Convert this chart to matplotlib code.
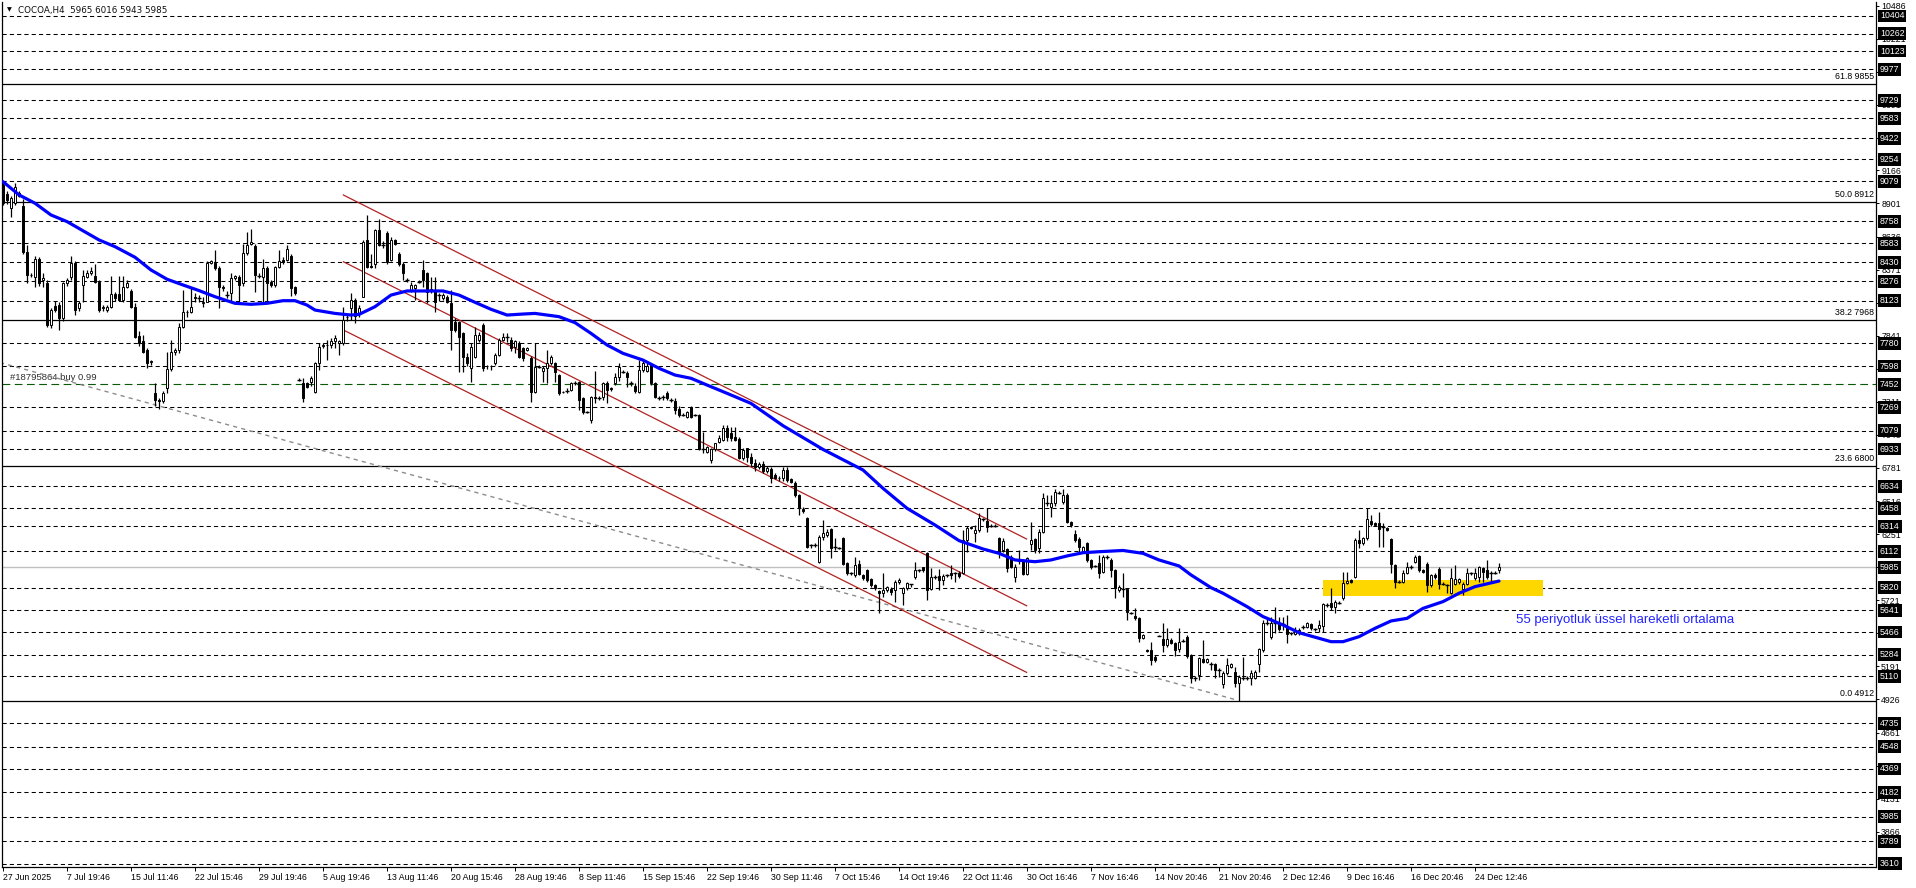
import matplotlib
matplotlib.use("Agg")
import matplotlib.pyplot as plt
import matplotlib.transforms as mtransforms

# ---- candle data (H4 bars) ----
opens = [
    9050, 8978, 8863, 8903, 8983, 8880, 8515, 8330, 8315, 8455,
    8290, 8261, 7928, 8080, 8090, 7980, 8261, 8315, 8422, 8060,
    8250, 8315, 8340, 8320, 8275, 8060, 8050, 8075, 8175, 8175,
    8130, 8235, 8200, 8075, 7840, 7800, 7727, 7630, 7385, 7330,
    7320, 7420, 7572, 7713, 7727, 7914, 8034, 8034, 8150, 8140,
    8100, 8115, 8427, 8427, 8382, 8235, 8170, 8185, 8300, 8315,
    8261, 8502, 8580, 8560, 8320, 8315, 8382, 8275, 8250, 8390,
    8450, 8450, 8480, 8230, 7486, 7459, 7460, 7470, 7393, 7620,
    7760, 7765, 7770, 7800, 7780, 7780, 7990, 8060, 8130, 8020,
    8155, 8608, 8400, 8420, 8690, 8570, 8667, 8448, 8608, 8500,
    8420, 8290, 8210, 8220, 8275, 8368, 8341, 8215, 8207, 8170,
    8140, 8150, 8100, 7954, 7954, 7860, 7673, 7580, 7673, 7810,
    7927, 7600, 7595, 7620, 7686, 7807, 7830, 7807, 7750, 7780,
    7740, 7730, 7660, 7392, 7593, 7560, 7580, 7620, 7620, 7525,
    7392, 7400, 7406, 7465, 7473, 7339, 7230, 7165, 7350, 7345,
    7352, 7465, 7420, 7460, 7513, 7550, 7545, 7460, 7440, 7390,
    7566, 7560, 7606, 7460, 7345, 7350, 7385, 7325, 7318, 7254,
    7206, 7192, 7272, 7203, 7206, 6930, 6912, 6845, 6930, 6992,
    7005, 7104, 7059, 7030, 7010, 6858, 6938, 6872, 6820, 6790,
    6810, 6760, 6770, 6725, 6700, 6698, 6765, 6690, 6663, 6565,
    6450, 6378, 6160, 6165, 6030, 6231, 6245, 6290, 6150, 6140,
    6222, 6017, 5940, 5923, 6009, 5923, 5963, 5889, 5843, 5795,
    5776, 5803, 5815, 5803, 5865, 5776, 5816, 5851, 5905, 5963,
    5985, 6097, 5810, 5905, 5915, 5883, 5923, 5942, 5937, 5942,
    5937, 6204, 6310, 6258, 6284, 6370, 6356, 6320, 6318, 6222,
    6124, 6130, 6070, 5905, 6038, 6044, 5928, 6172, 6209, 6137,
    6270, 6500, 6470, 6498, 6582, 6512, 6565, 6351, 6252, 6209,
    6115, 6180, 6044, 5995, 6022, 5950, 6065, 6044, 5963, 5803,
    5808, 5809, 5620, 5595, 5582, 5421, 5320, 5322, 5269, 5435,
    5408, 5363, 5400, 5376, 5328, 5397, 5429, 5282, 5095, 5122,
    5248, 5229, 5210, 5210, 5162, 5047, 5135, 5189, 5149, 5055,
    5095, 5095, 5095, 5095, 5210, 5322, 5536, 5429, 5536, 5541,
    5530, 5510, 5456, 5451, 5456, 5504, 5510, 5528, 5488, 5496,
    5515, 5683, 5696, 5670, 5700, 5737, 5857, 5884, 5910, 6200,
    6178, 6218, 6359, 6338, 6338, 6311, 6298, 6209, 6004, 5870,
    5870, 5937, 5985, 6030, 6076, 5963, 6012, 5843, 5924, 5972,
    5852, 5844, 5776, 5849, 5870, 5808, 5852, 5937, 5897, 5905,
    5977, 5963, 5942, 5942, 5965,
]
highs = [
    9075, 9000, 8960, 9063, 9000, 8940, 8570, 8345, 8480, 8470,
    8340, 8290, 8060, 8120, 8110, 8275, 8300, 8480, 8440, 8120,
    8368, 8368, 8390, 8420, 8290, 8085, 8085, 8320, 8190, 8320,
    8320, 8290, 8215, 8100, 7880, 7850, 7740, 7650, 7460, 7345,
    7400, 7713, 7807, 7740, 7940, 8208, 8050, 8230, 8180, 8165,
    8150, 8440, 8450, 8528, 8400, 8245, 8200, 8340, 8330, 8330,
    8580, 8670, 8700, 8580, 8345, 8460, 8400, 8290, 8400, 8528,
    8470, 8570, 8500, 8240, 7500, 7500, 7470, 7515, 7627, 7780,
    7780, 7807, 7820, 7845, 7810, 8074, 8010, 8180, 8140, 8090,
    8610, 8810, 8500, 8700, 8775, 8600, 8680, 8630, 8620, 8510,
    8430, 8300, 8270, 8255, 8290, 8450, 8350, 8315, 8315, 8180,
    8180, 8170, 8207, 7980, 7960, 7870, 7700, 7780, 7914, 7870,
    7940, 7610, 7610, 7700, 7820, 7860, 7860, 7830, 7810, 7800,
    7750, 7750, 7680, 7780, 7610, 7600, 7727, 7690, 7630, 7535,
    7400, 7420, 7470, 7480, 7480, 7350, 7240, 7360, 7560, 7360,
    7473, 7475, 7430, 7540, 7620, 7565, 7560, 7480, 7460, 7646,
    7650, 7620, 7620, 7470, 7360, 7365, 7400, 7340, 7340, 7275,
    7220, 7240, 7280, 7210, 7210, 7072, 6960, 6940, 6985, 7045,
    7125, 7125, 7112, 7112, 7030, 6940, 6945, 6900, 6850, 6830,
    6840, 6800, 6790, 6740, 6720, 6790, 6790, 6700, 6680, 6575,
    6470, 6390, 6175, 6180, 6245, 6365, 6290, 6300, 6218, 6150,
    6230, 6030, 5950, 6065, 6044, 5935, 5975, 5900, 5850, 5803,
    5937, 5835, 5825, 5880, 5900, 5830, 5870, 5855, 6030, 5975,
    5990, 6110, 5980, 5920, 5975, 5930, 5935, 6003, 5950, 5955,
    6284, 6320, 6320, 6324, 6418, 6380, 6458, 6335, 6330, 6230,
    6218, 6140, 6080, 6010, 6124, 6050, 6070, 6350, 6220, 6290,
    6580, 6565, 6565, 6610, 6595, 6610, 6578, 6360, 6284, 6231,
    6155, 6190, 6050, 6005, 6084, 6084, 6080, 6060, 5975, 5840,
    5937, 5820, 5630, 5656, 5590, 5450, 5330, 5389, 5280, 5440,
    5536, 5496, 5420, 5390, 5496, 5410, 5440, 5290, 5110, 5270,
    5403, 5260, 5225, 5220, 5175, 5150, 5256, 5220, 5189, 5122,
    5269, 5110, 5162, 5160, 5340, 5563, 5590, 5590, 5670, 5590,
    5590, 5603, 5470, 5510, 5500, 5520, 5550, 5540, 5500, 5563,
    5700, 5700, 5817, 5720, 5715, 5950, 5950, 5890, 6220, 6284,
    6230, 6458, 6405, 6345, 6431, 6338, 6310, 6220, 6015, 5880,
    5963, 6030, 6000, 6084, 6084, 5970, 6030, 5935, 5937, 5985,
    5865, 5855, 5977, 6004, 5900, 5870, 5977, 5950, 5982, 5995,
    5990, 6044, 5955, 5955, 6016,
]
lows = [
    8890, 8900, 8796, 8890, 8950, 8500, 8260, 8310, 8235, 8240,
    8235, 7910, 7900, 8030, 7890, 7960, 8240, 8290, 8010, 8040,
    8115, 8300, 8330, 8260, 8030, 8040, 8030, 8060, 8120, 8120,
    8110, 8220, 8060, 7820, 7760, 7700, 7580, 7610, 7280, 7250,
    7300, 7380, 7560, 7690, 7700, 7900, 7990, 8020, 8115, 8110,
    8075, 8110, 8420, 8370, 8060, 8200, 8140, 8115, 8290, 8115,
    8240, 8490, 8570, 8195, 8300, 8115, 8115, 8235, 8235, 8380,
    8420, 8440, 8160, 8170, 7480, 7312, 7420, 7440, 7380, 7566,
    7740, 7650, 7740, 7740, 7690, 7770, 7960, 7967, 7940, 7995,
    8150, 8380, 8380, 8380, 8560, 8545, 8420, 8440, 8570, 8400,
    8290, 8270, 8190, 8130, 8260, 8234, 8100, 8180, 8034, 8120,
    8130, 8100, 7727, 7870, 7553, 7553, 7600, 7473, 7660, 7790,
    7560, 7575, 7570, 7610, 7680, 7800, 7790, 7715, 7700, 7660,
    7640, 7720, 7312, 7380, 7580, 7473, 7460, 7610, 7473, 7370,
    7380, 7380, 7395, 7450, 7245, 7215, 7220, 7140, 7300, 7330,
    7330, 7300, 7400, 7450, 7480, 7540, 7430, 7440, 7380, 7380,
    7550, 7550, 7450, 7340, 7330, 7330, 7330, 7310, 7215, 7190,
    7195, 7185, 7180, 7195, 6925, 6898, 6905, 6818, 6920, 6985,
    6995, 6995, 7000, 7000, 6850, 6845, 6830, 6800, 6760, 6770,
    6740, 6740, 6663, 6690, 6680, 6680, 6670, 6660, 6550, 6405,
    6420, 6140, 6140, 6150, 6020, 6205, 6230, 6057, 6124, 6130,
    6000, 5920, 5925, 5910, 5920, 5880, 5870, 5830, 5800, 5616,
    5750, 5790, 5763, 5710, 5850, 5683, 5800, 5830, 5890, 5950,
    5950, 5723, 5800, 5890, 5803, 5840, 5905, 5890, 5870, 5900,
    5930, 6110, 6290, 6190, 6270, 6355, 6270, 6305, 6305, 6057,
    6110, 5950, 5980, 5870, 6010, 5920, 5920, 6124, 6097, 6097,
    6260, 6480, 6391, 6480, 6570, 6490, 6340, 6310, 6190, 6110,
    6100, 6030, 5970, 5985, 5897, 5940, 6050, 5910, 5736, 5790,
    5750, 5563, 5610, 5560, 5389, 5410, 5305, 5202, 5230, 5435,
    5309, 5350, 5370, 5274, 5309, 5385, 5260, 5055, 5070, 5082,
    5215, 5215, 5162, 5095, 5109, 5015, 5120, 5180, 5028, 4917,
    5082, 5080, 5042, 5090, 5149, 5310, 5520, 5410, 5456, 5476,
    5483, 5376, 5440, 5440, 5440, 5490, 5500, 5485, 5475, 5470,
    5470, 5670, 5643, 5616, 5690, 5720, 5850, 5860, 5900, 6137,
    6160, 6200, 6320, 6315, 6150, 6150, 6275, 5937, 5817, 5860,
    5860, 5930, 5975, 6020, 5950, 5940, 5790, 5830, 5895, 5808,
    5840, 5776, 5770, 5840, 5855, 5763, 5840, 5925, 5885, 5870,
    5870, 5890, 5857, 5930, 5943,
]
closes = [
    8905, 8930, 8943, 9036, 8960, 8515, 8330, 8325, 8455, 8261,
    8300, 7928, 8047, 8047, 7980, 8261, 8290, 8422, 8047, 8101,
    8320, 8340, 8360, 8275, 8047, 8070, 8075, 8175, 8140, 8130,
    8235, 8261, 8075, 7834, 7780, 7713, 7620, 7635, 7330, 7320,
    7380, 7572, 7713, 7727, 7914, 8034, 8030, 8074, 8145, 8140,
    8115, 8427, 8440, 8382, 8235, 8222, 8170, 8300, 8320, 8250,
    8502, 8570, 8595, 8330, 8320, 8382, 8261, 8250, 8390, 8440,
    8430, 8540, 8220, 8185, 7486, 7339, 7430, 7500, 7620, 7753,
    7765, 7767, 7800, 7820, 7800, 7967, 7995, 8125, 8000, 8060,
    8595, 8395, 8390, 8690, 8570, 8570, 8435, 8608, 8580, 8420,
    8341, 8290, 8250, 8245, 8275, 8288, 8194, 8205, 8114, 8170,
    8165, 8110, 7887, 7887, 7834, 7673, 7620, 7753, 7847, 7850,
    7580, 7598, 7598, 7686, 7807, 7830, 7830, 7740, 7800, 7673,
    7660, 7740, 7392, 7593, 7593, 7580, 7620, 7673, 7553, 7379,
    7390, 7400, 7460, 7465, 7326, 7232, 7230, 7352, 7345, 7345,
    7460, 7406, 7418, 7513, 7593, 7550, 7513, 7460, 7400, 7566,
    7620, 7600, 7460, 7352, 7345, 7350, 7340, 7325, 7246, 7206,
    7206, 7227, 7192, 7203, 6930, 6930, 6952, 6930, 6978, 7018,
    7104, 7030, 7019, 7005, 6858, 6925, 6872, 6820, 6790, 6810,
    6760, 6780, 6698, 6700, 6698, 6765, 6685, 6672, 6565, 6458,
    6435, 6145, 6160, 6165, 6231, 6258, 6270, 6137, 6150, 6140,
    6009, 5937, 5940, 6003, 5931, 5897, 5883, 5843, 5816, 5776,
    5803, 5825, 5790, 5870, 5883, 5816, 5857, 5851, 5963, 5963,
    5963, 5803, 5905, 5905, 5883, 5915, 5923, 5923, 5937, 5915,
    6204, 6298, 6298, 6284, 6378, 6370, 6310, 6320, 6318, 6110,
    6196, 5977, 5990, 5990, 6045, 5928, 6057, 6204, 6124, 6270,
    6538, 6500, 6498, 6591, 6582, 6565, 6351, 6324, 6204, 6150,
    6145, 6044, 5985, 5995, 5937, 6065, 6065, 5963, 5816, 5830,
    5808, 5630, 5620, 5576, 5421, 5443, 5317, 5242, 5242, 5435,
    5363, 5408, 5380, 5322, 5389, 5397, 5274, 5095, 5095, 5256,
    5229, 5248, 5210, 5162, 5162, 5135, 5202, 5210, 5055, 5109,
    5095, 5095, 5140, 5149, 5328, 5536, 5536, 5541, 5536, 5488,
    5530, 5451, 5456, 5483, 5483, 5504, 5536, 5496, 5488, 5523,
    5691, 5683, 5670, 5710, 5700, 5862, 5878, 5870, 6204, 6178,
    6218, 6370, 6330, 6325, 6290, 6311, 6284, 6012, 5870, 5870,
    5942, 5985, 5985, 6071, 5963, 5950, 5843, 5924, 5905, 5852,
    5852, 5844, 5897, 5889, 5889, 5852, 5937, 5937, 5937, 5985,
    5950, 5905, 5942, 5942, 5985,
]

# 55 period EMA, read at selected bars
ema_bars = [0, 4, 8, 12, 16, 24, 28, 33, 37, 41,
            45, 49, 53, 58, 62, 66, 70, 73, 76, 78,
            83, 87, 89, 93, 97, 101, 110, 114, 118, 122,
            126, 130, 133, 139, 143, 147, 151, 155, 160, 164,
            168, 172, 176, 180, 187, 195, 205, 215, 220, 226,
            233, 239, 245, 249, 253, 258, 262, 266, 270, 274,
            280, 285, 289, 294, 297, 302, 305, 311, 315, 320,
            324, 329, 332, 335, 339, 343, 347, 351, 355, 360,
            364, 368, 374]
ema_vals = [9076, 8970, 8903, 8809, 8756, 8609, 8555, 8470, 8368, 8294,
            8248, 8203, 8154, 8101, 8093, 8101, 8122, 8122, 8087, 8047,
            8020, 8007, 8012, 8074, 8167, 8200, 8200, 8167, 8109, 8053,
            8007, 8015, 8020, 7994, 7946, 7860, 7767, 7700, 7646, 7580,
            7526, 7500, 7446, 7393, 7299, 7120, 6930, 6765, 6618, 6458,
            6324, 6199, 6132, 6097, 6044, 6030, 6044, 6076, 6102, 6110,
            6120, 6097, 6044, 5996, 5924, 5822, 5777, 5670, 5590, 5523,
            5461, 5416, 5389, 5389, 5429, 5496, 5555, 5576, 5656, 5710,
            5777, 5830, 5875]

# horizontal levels
dashed_levels = [10404, 10262, 10123, 9977, 9729, 9583, 9422, 9254, 9079,
                 8758, 8583, 8430, 8276, 8123, 7780, 7598, 7269, 7079, 6933,
                 6634, 6458, 6314, 6112, 5820, 5641, 5466, 5284, 5110,
                 4735, 4548, 4369, 4182, 3985, 3789, 3610]
fib_levels = [9855, 8912, 7968, 6800, 4912]
fib_labels = ["61.8 9855", "50.0 8912", "38.2 7968", "23.6 6800", "0.0 4912"]
order_level = 7452
order_label = "#18795864 buy 0.99"
last_price = 5985

axis_ticks = [10486, 10221, 9956, 9691, 9426, 9166, 8901, 8636, 8371, 8106,
              7841, 7576, 7311, 7046, 6781, 6516, 6251, 5986, 5721, 5456,
              5191, 4926, 4661, 4396, 4131, 3866]

date_bars = list(range(0, 369, 16))
date_labels = ["27 Jun 2025", "7 Jul 19:46", "15 Jul 11:46", "22 Jul 15:46",
               "29 Jul 19:46", "5 Aug 19:46", "13 Aug 11:46", "20 Aug 15:46",
               "28 Aug 19:46", "8 Sep 11:46", "15 Sep 15:46", "22 Sep 19:46",
               "30 Sep 11:46", "7 Oct 15:46", "14 Oct 19:46", "22 Oct 11:46",
               "30 Oct 16:46", "7 Nov 16:46", "14 Nov 20:46", "21 Nov 20:46",
               "2 Dec 12:46", "9 Dec 16:46", "16 Dec 20:46", "24 Dec 12:46"]

# drawn objects (bar index, price)
channel_x = [85.1, 255.9]
channel_top = [8969, 6212]
channel_mid = [8434, 5677]
channel_low = [7887, 5143]
trend_x = [-0.75, 308.5]
trend_y = [7626, 4921]
zone_x = [329.9, 384.9]
zone_y = [5757, 5883]
ema_note = "55 periyotluk üssel hareketli ortalama"

W, H = 1916, 888
fig = plt.figure(figsize=(W / 100, H / 100), dpi=100)
fig.patch.set_facecolor("white")
ax = fig.add_axes([2 / W, 21 / H, 1874 / W, 865 / H])
ax.set_xlim(-0.25, 468.25)
ax.set_ylim(3583, 10516)

afont = "Liberation Sans"
fs = 6.3

# grid-like levels
for lv in dashed_levels:
    ax.axhline(lv, color="black", lw=0.75, ls=(0, (4, 3)), zorder=1)
for lv, lab in zip(fib_levels, fib_labels):
    ax.axhline(lv, color="black", lw=0.9, zorder=1)
    ax.text(0.999, lv + 25, lab, transform=mtransforms.blended_transform_factory(ax.transAxes, ax.transData),
            ha="right", va="bottom", fontsize=fs, family=afont, color="black")
ax.axhline(order_level, color="#0a5a0a", lw=0.8, ls=(0, (7, 4)), zorder=1)
ax.text(1.75, order_level + 15, order_label, ha="left", va="bottom", fontsize=6.8,
        family=afont, color="#303030", zorder=2)
ax.axhline(last_price, color="#c0c0c0", lw=1.0, zorder=1)

# objects
ax.plot(trend_x, trend_y, color="#8c8c8c", lw=1.0, ls=(0, (3, 3)), zorder=2)
for ys in (channel_top, channel_mid, channel_low):
    ax.plot(channel_x, ys, color="#b22222", lw=0.9, zorder=2)
ax.fill_between(zone_x, zone_y[0], zone_y[1], color="#ffd700", lw=0, zorder=1.5)

# candles
for i in range(len(closes)):
    o, h, l, c = opens[i], highs[i], lows[i], closes[i]
    ax.vlines(i, l, h, color="black", lw=0.9, zorder=3)
    if c == o:
        ax.hlines(c, i - 0.4, i + 0.4, color="black", lw=1.0, zorder=4)
    else:
        face = "white" if c > o else "black"
        ax.bar(i, abs(c - o), bottom=min(o, c), width=0.72, facecolor=face,
               edgecolor="black", linewidth=0.7, zorder=4)

ax.plot(ema_bars, ema_vals, color="#0000ff", lw=2.3, zorder=5, solid_capstyle="round")
ax.text(378.3, 5563, ema_note, ha="left", va="center", fontsize=9.5,
        family=afont, color="#2323ff", zorder=6)

# axes styling
ax.spines["top"].set_visible(False)
for s in ("left", "right", "bottom"):
    ax.spines[s].set_linewidth(0.9)
ax.yaxis.tick_right()
ax.set_yticks(axis_ticks)
ax.set_yticklabels([str(v) for v in axis_ticks], family=afont, fontsize=fs)
ax.tick_params(axis="y", direction="out", length=2.5, width=0.7, pad=1.2)
ax.set_xticks(date_bars)
ax.set_xticklabels(date_labels, family=afont, fontsize=fs, ha="left")
ax.tick_params(axis="x", direction="out", length=3, width=0.7, pad=1.5)

# price boxes on the right scale
bt = mtransforms.blended_transform_factory(ax.transAxes, ax.transData)
for lv in dashed_levels + [order_level, last_price]:
    ax.text(1.0021, lv, str(lv), transform=bt, ha="left", va="center", fontsize=fs,
            family=afont, color="white", clip_on=False, zorder=10,
            bbox=dict(boxstyle="square,pad=0.22", fc="black", ec="none"))

# header
fig.text(7 / W, 1 - 10 / H, "▼", fontsize=4.5, va="center", ha="left", color="black")
fig.text(18 / W, 1 - 10 / H, "COCOA,H4  5965 6016 5943 5985", fontsize=6.3,
         va="center", ha="left", family="DejaVu Sans", color="#101010")

fig.savefig("out.png", dpi=100)
